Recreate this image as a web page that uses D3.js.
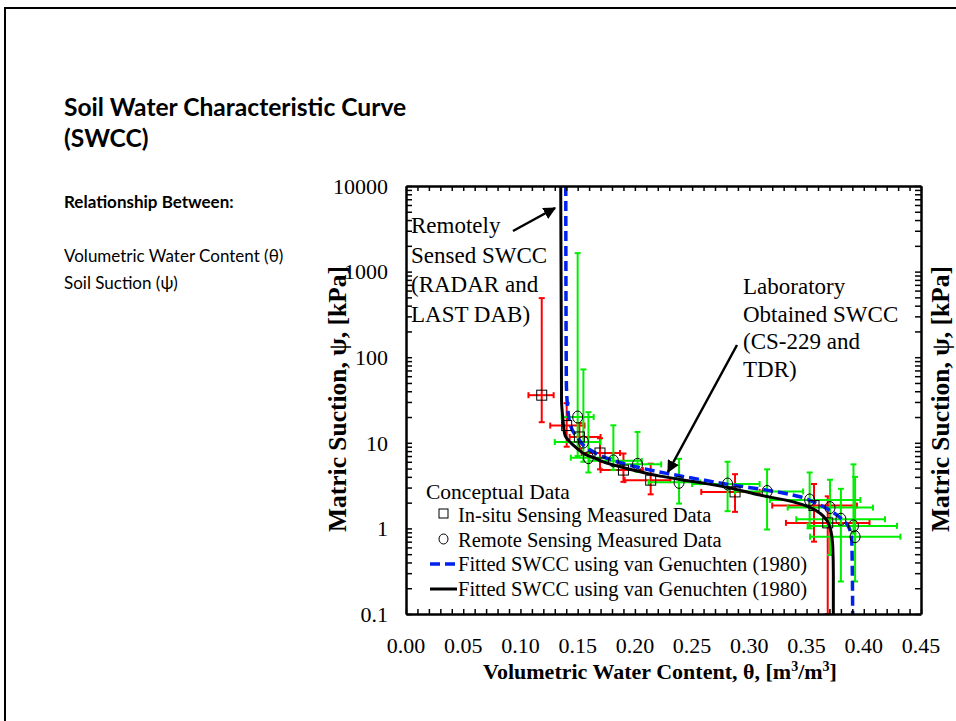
<!DOCTYPE html>
<html>
<head>
<meta charset="utf-8">
<script src="https://cdn.jsdelivr.net/npm/d3@7"></script>
<style>
  body { margin: 0; background: #fff; }
  svg { display: block; }
  .serif { font-family: "Liberation Serif", "Times New Roman", serif; }
  .sans { font-family: Lato, "Open Sans", sans-serif; }
</style>
</head>
<body>
<svg id="chart" width="956" height="721"></svg>
<script>
// In-situ sensing measured data (squares, red error bars)
const insituTheta   = [0.1186, 0.1404, 0.1515, 0.1695, 0.190, 0.2138, 0.2875, 0.3565, 0.3685];
const insituPsi     = [36, 15.9, 11.7, 7.6, 4.8, 3.66, 2.67, 1.85, 1.16];
const insituThetaLo = [0.107, 0.126, 0.143, 0.1535, 0.170, 0.191, 0.258, 0.320, 0.332];
const insituThetaHi = [0.129, 0.156, 0.170, 0.187, 0.207, 0.231, 0.309, 0.394, 0.405];
const insituPsiLo   = [17.4, 9.0, 8.5, 4.9, 3.5, 2.5, 1.56, 0.70, 0.1];
const insituPsiHi   = [490, 29, 17, 11.3, 7.5, 5.7, 4.3, 3.3, 2.37];

// Remote sensing measured data (circles, green error bars)
const remoteTheta   = [0.150, 0.155, 0.1594, 0.1812, 0.2023, 0.2386, 0.281, 0.3155, 0.3527, 0.3705, 0.380, 0.391, 0.3924];
const remotePsi     = [20, 10.2, 6.7, 6.15, 5.6, 3.45, 3.3, 2.7, 2.15, 1.75, 1.28, 1.07, 0.80];
const remoteThetaLo = [0.136, 0.130, 0.144, 0.160, 0.187, 0.212, 0.250, 0.2875, 0.318, 0.3335, 0.341, 0.351, 0.353];
const remoteThetaHi = [0.164, 0.170, 0.181, 0.206, 0.223, 0.257, 0.309, 0.347, 0.397, 0.408, 0.4185, 0.429, 0.432];
const remotePsiLo   = [7, 6, 4.5, 4.8, 4.6, 1.95, 1.59, 0.97, 1.0, 0.49, 0.24, 0.87, 0.24];
const remotePsiHi   = [1644, 72, 22.8, 16, 13.4, 6.5, 6.0, 4.9, 4.5, 3.7, 2.9, 5.6, 4.0];

// Fitted SWCC, remote (blue dashed)
const blueTheta = [0.1396, 0.1401, 0.1411, 0.1433, 0.1462, 0.1506, 0.1549, 0.1637, 0.1783, 0.1986, 0.2278, 0.2569, 0.286, 0.3152, 0.3443, 0.3559, 0.3676, 0.3792, 0.3865, 0.3895, 0.390, 0.3903];
const bluePsi   = [10000, 53.7, 27.5, 16.8, 13.4, 11.2, 9.4, 7.84, 6.38, 5.33, 4.39, 3.73, 3.20, 2.80, 2.34, 2.04, 1.71, 1.34, 1.06, 0.73, 0.30, 0.1];

// Fitted SWCC, in-situ (black solid)
const blackTheta = [0.1352, 0.1359, 0.1372, 0.1389, 0.1433, 0.1462, 0.1506, 0.1579, 0.1637, 0.1724, 0.187, 0.1929, 0.222, 0.251, 0.280, 0.3093, 0.3384, 0.353, 0.3618, 0.3676, 0.3711, 0.3729, 0.3734, 0.3734];
const blackPsi   = [10000, 31.4, 18.4, 12.3, 10.2, 9.4, 8.35, 7.16, 6.73, 5.98, 5.24, 5.01, 4.08, 3.53, 3.03, 2.45, 2.04, 1.76, 1.50, 1.25, 0.955, 0.61, 0.30, 0.1];

const xTickLabels = [0, 0.05, 0.10, 0.15, 0.20, 0.25, 0.30, 0.35, 0.40, 0.45];
const yTickLabels = [0.1, 1, 10, 100, 1000, 10000];

const legendLabels = ["In-situ Sensing Measured Data", "Remote Sensing Measured Data",
  "Fitted SWCC using van Genuchten (1980)", "Fitted SWCC using van Genuchten (1980)"];

const svg = d3.select("#chart");

// slide border (runs off the right and bottom of the view)
svg.append("rect")
  .attr("x", 5).attr("y", 8)
  .attr("width", 1000).attr("height", 800)
  .attr("fill", "none").attr("stroke", "#000").attr("stroke-width", 2);

// left-hand slide text
let head = svg.append("g").attr("class", "sans").attr("fill", "#000");
head.append("text").attr("x", 64).attr("y", 116)
  .attr("font-size", 24.6).attr("font-weight", "bold")
  .text("Soil Water Characteristic Curve");
head.append("text").attr("x", 64).attr("y", 147)
  .attr("font-size", 24.6).attr("font-weight", "bold")
  .text("(SWCC)");
head.append("text").attr("x", 64).attr("y", 208)
  .attr("font-size", 17).attr("font-weight", "bold")
  .text("Relationship Between:");
head.append("text").attr("x", 64).attr("y", 262)
  .attr("font-size", 17)
  .text("Volumetric Water Content (θ)");
head.append("text").attr("x", 64).attr("y", 289)
  .attr("font-size", 17)
  .text("Soil Suction (ψ)");

// scales
let x = d3.scaleLinear().domain([0, 0.45]).range([406, 921]);
let y = d3.scaleLog().domain([0.1, 10000]).range([614, 186]);

svg.append("defs").append("clipPath").attr("id", "plotClip")
  .append("rect")
  .attr("x", x(0)).attr("y", y(10000))
  .attr("width", x(0.45) - x(0)).attr("height", y(0.1) - y(10000));

let plot = svg.append("g").attr("clip-path", "url(#plotClip)");

/**
 * Error bars with end caps
 */
function errorBars(g, theta, psi, tLo, tHi, pLo, pHi, color) {
  let cap = 3;
  theta.forEach(function(t, i) {
    let cx = x(t), cy = y(psi[i]);
    let x0 = x(tLo[i]), x1 = x(tHi[i]);
    let y0 = y(pLo[i]), y1 = y(pHi[i]);
    let eb = g.append("g").attr("stroke", color).attr("stroke-width", 2);
    eb.append("line").attr("x1", x0).attr("x2", x1).attr("y1", cy).attr("y2", cy);
    eb.append("line").attr("x1", x0).attr("x2", x0).attr("y1", cy - cap).attr("y2", cy + cap);
    eb.append("line").attr("x1", x1).attr("x2", x1).attr("y1", cy - cap).attr("y2", cy + cap);
    eb.append("line").attr("x1", cx).attr("x2", cx).attr("y1", y0).attr("y2", y1);
    eb.append("line").attr("x1", cx - cap).attr("x2", cx + cap).attr("y1", y0).attr("y2", y0);
    eb.append("line").attr("x1", cx - cap).attr("x2", cx + cap).attr("y1", y1).attr("y2", y1);
  });
}

errorBars(plot, insituTheta, insituPsi, insituThetaLo, insituThetaHi, insituPsiLo, insituPsiHi, "#ff0000");
errorBars(plot, remoteTheta, remotePsi, remoteThetaLo, remoteThetaHi, remotePsiLo, remotePsiHi, "#00ee00");

// fitted curves
let line = d3.line()
  .x(function(d) { return x(d[0]); })
  .y(function(d) { return y(d[1]); })
  .curve(d3.curveMonotoneY);

plot.append("path")
  .datum(d3.zip(blackTheta, blackPsi))
  .attr("d", line)
  .attr("fill", "none").attr("stroke", "#000").attr("stroke-width", 3);

plot.append("path")
  .datum(d3.zip(blueTheta, bluePsi))
  .attr("d", line)
  .attr("fill", "none").attr("stroke", "#0022ee").attr("stroke-width", 3.5)
  .attr("stroke-dasharray", "10,5");

// markers
plot.selectAll(".insitu")
  .data(d3.zip(insituTheta, insituPsi))
  .enter().append("rect")
  .attr("class", "insitu")
  .attr("x", function(d) { return x(d[0]) - 5; })
  .attr("y", function(d) { return y(d[1]) - 5; })
  .attr("width", 10).attr("height", 10)
  .attr("fill", "none").attr("stroke", "#000").attr("stroke-width", 1);

plot.selectAll(".remote")
  .data(d3.zip(remoteTheta, remotePsi))
  .enter().append("ellipse")
  .attr("class", "remote")
  .attr("cx", function(d) { return x(d[0]); })
  .attr("cy", function(d) { return y(d[1]); })
  .attr("rx", 5).attr("ry", 6)
  .attr("fill", "none").attr("stroke", "#000").attr("stroke-width", 1);

// axes: ticks point inward on all four sides
let xMinor = d3.range(0, 46).map(function(i) { return i / 100; });
let yMinor = y.ticks();

function styleAxis(g) {
  g.select(".domain").attr("stroke-width", 2.5);
  g.selectAll(".tick line").attr("stroke-width", 1.5);
}

svg.append("g").attr("transform", "translate(0," + y(0.1) + ")")
  .call(d3.axisBottom(x).tickValues(xMinor).tickSize(-5).tickSizeOuter(0).tickFormat(""))
  .call(styleAxis);
svg.append("g").attr("transform", "translate(0," + y(10000) + ")")
  .call(d3.axisTop(x).tickValues(xMinor).tickSize(-5).tickSizeOuter(0).tickFormat(""))
  .call(styleAxis);
svg.append("g").attr("transform", "translate(" + x(0) + ",0)")
  .call(d3.axisLeft(y).tickValues(yMinor).tickSize(-6).tickSizeOuter(0).tickFormat(""))
  .call(styleAxis);
svg.append("g").attr("transform", "translate(" + x(0.45) + ",0)")
  .call(d3.axisRight(y).tickValues(yMinor).tickSize(-6).tickSizeOuter(0).tickFormat(""))
  .call(styleAxis);

// axis titles (drawn before tick labels so the labels stay on top)
let xt = svg.append("text").attr("class", "serif")
  .attr("x", 660).attr("y", 679)
  .attr("text-anchor", "middle").attr("font-size", 22).attr("font-weight", "bold");
xt.append("tspan").text("Volumetric Water Content, θ, [m");
xt.append("tspan").attr("dy", -8).attr("font-size", 14).text("3");
xt.append("tspan").attr("dy", 8).text("/m");
xt.append("tspan").attr("dy", -8).attr("font-size", 14).text("3");
xt.append("tspan").attr("dy", 8).text("]");

[[346, 399], [949, 399]].forEach(function(p) {
  svg.append("text").attr("class", "serif")
    .attr("transform", "translate(" + p[0] + "," + p[1] + ") rotate(-90)")
    .attr("text-anchor", "middle").attr("font-size", 25.5).attr("font-weight", "bold")
    .text("Matric Suction, ψ, [kPa]");
});

// tick labels
let labels = svg.append("g").attr("class", "serif").attr("font-size", 22).attr("fill", "#000");
labels.selectAll(".xl").data(xTickLabels).enter().append("text")
  .attr("x", function(d) { return x(d); })
  .attr("y", 653)
  .attr("text-anchor", "middle")
  .text(d3.format(".2f"));
labels.selectAll(".yl").data(yTickLabels).enter().append("text")
  .attr("x", 388)
  .attr("y", function(d) { return y(d); })
  .attr("dy", "0.35em")
  .attr("text-anchor", "end")
  .text(function(d) { return String(d); });

// annotations
svg.append("defs").append("marker")
  .attr("id", "arrow").attr("viewBox", "0 0 10 10")
  .attr("refX", 9).attr("refY", 5)
  .attr("markerWidth", 5).attr("markerHeight", 5)
  .attr("orient", "auto")
  .append("path").attr("d", "M0,0L10,5L0,10z").attr("fill", "#000");

let notes = svg.append("g").attr("class", "serif").attr("font-size", 23).attr("fill", "#000");
["Remotely", "Sensed SWCC", "(RADAR and", "LAST DAB)"].forEach(function(t, i) {
  notes.append("text").attr("x", 411).attr("y", 233 + i * 29.5).text(t);
});
["Laboratory", "Obtained SWCC", "(CS-229 and", "TDR)"].forEach(function(t, i) {
  notes.append("text").attr("x", 743).attr("y", 294 + i * 27.5).text(t);
});

svg.append("line").attr("x1", 513).attr("y1", 231).attr("x2", 555).attr("y2", 208)
  .attr("stroke", "#000").attr("stroke-width", 2.5).attr("marker-end", "url(#arrow)");
svg.append("line").attr("x1", 737).attr("y1", 345).attr("x2", 668).attr("y2", 472)
  .attr("stroke", "#000").attr("stroke-width", 2.5).attr("marker-end", "url(#arrow)");

// legend
let legend = svg.append("g").attr("class", "serif").attr("fill", "#000");
legend.append("text").attr("x", 426).attr("y", 499).attr("font-size", 21.5).text("Conceptual Data");
legendLabels.forEach(function(t, i) {
  legend.append("text").attr("x", 458).attr("y", 522 + i * 24.7).attr("font-size", 20.5).text(t);
});
legend.append("rect").attr("x", 439).attr("y", 509).attr("width", 9).attr("height", 9)
  .attr("fill", "none").attr("stroke", "#000").attr("stroke-width", 1);
legend.append("ellipse").attr("cx", 443.5).attr("cy", 539).attr("rx", 4.5).attr("ry", 5)
  .attr("fill", "none").attr("stroke", "#000").attr("stroke-width", 1);
legend.append("line").attr("x1", 430).attr("x2", 457).attr("y1", 564).attr("y2", 564)
  .attr("stroke", "#0022ee").attr("stroke-width", 3.5).attr("stroke-dasharray", "10,5");
legend.append("line").attr("x1", 430).attr("x2", 457).attr("y1", 589).attr("y2", 589)
  .attr("stroke", "#000").attr("stroke-width", 3);
</script>
</body>
</html>
